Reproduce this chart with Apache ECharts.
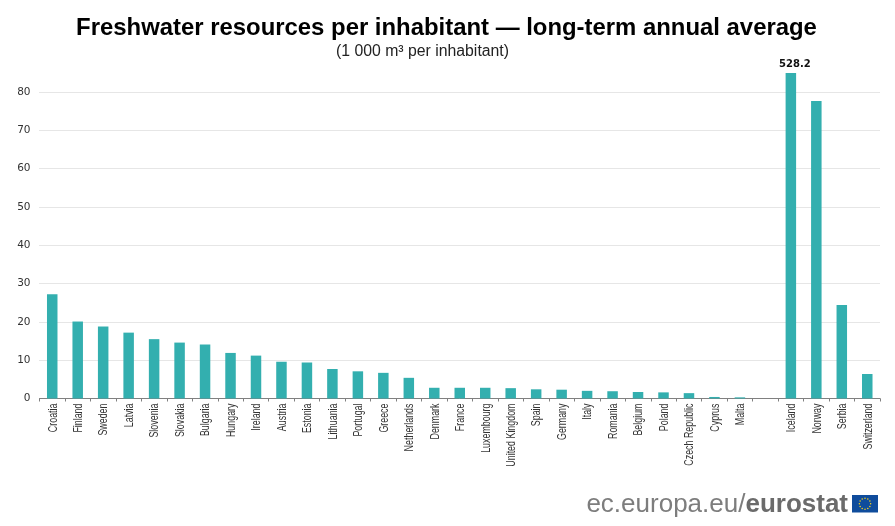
<!DOCTYPE html>
<html><head><meta charset="utf-8">
<style>html,body{margin:0;padding:0;background:#fff}#c{width:895px;height:526px}</style>
<script src="https://cdn.jsdelivr.net/npm/echarts@6/dist/echarts.min.js"></script>
</head><body><div id="c"></div>
<script>
const categories = ['Croatia','Finland','Sweden','Latvia','Slovenia','Slovakia','Bulgaria','Hungary','Ireland','Austria','Estonia','Lithuania','Portugal','Greece','Netherlands','Denmark','France','Luxembourg','United Kingdom','Spain','Germany','Italy','Romania','Belgium','Poland','Czech Republic','Cyprus','Malta','','Iceland','Norway','Serbia','Switzerland'];
const values = [27.2,20.1,18.8,17.2,15.5,14.6,14.1,11.9,11.2,9.6,9.4,7.7,7.1,6.7,5.4,2.8,2.8,2.8,2.7,2.4,2.3,2.0,1.9,1.7,1.6,1.4,0.4,0.3,null,528.2,77.7,24.4,6.4];
const labelled = 'Iceland';
const titleText = 'Freshwater resources per inhabitant — long-term annual average';
const subtitleText = '(1 000 m³ per inhabitant)';
const axisMax = 85;

const chart = echarts.init(document.getElementById('c'), null, {renderer:'canvas'});
const flagX = 852, flagY = 495, flagW = 26, flagH = 17.5;
const stars = [];
for (let i = 0; i < 12; i++) {
  const a = i * Math.PI / 6;
  stars.push({type:'circle', shape:{cx:flagX+flagW/2+5.6*Math.cos(a), cy:flagY+flagH/2+5.6*Math.sin(a), r:0.75}, style:{fill:'#ffd617'}});
}
chart.setOption({
  animation:false,
  backgroundColor:'#fff',
  title:[
    {text:titleText, left:441.5, top:11, textAlign:'center', textStyle:{fontFamily:'Liberation Sans', fontWeight:'bold', fontSize:23.9, color:'#000'}},
    {text:subtitleText, left:417.5, top:39, textAlign:'center', textStyle:{fontFamily:'Liberation Sans', fontWeight:'normal', fontSize:15.8, color:'#222'}}
  ],
  grid:{left:39.5, right:15, top:73, height:325.5, containLabel:false},
  xAxis:{type:'category', data:categories,
    axisLine:{lineStyle:{color:'#808080', width:1}},
    axisTick:{show:true, alignWithLabel:false, length:3, lineStyle:{color:'#808080'}},
    axisLabel:{rotate:90, interval:0, margin:5, fontFamily:'Liberation Sans', fontSize:12, color:'#333'}
  },
  yAxis:{type:'value', min:0, max:axisMax, interval:10,
    axisLine:{show:false}, axisTick:{show:false},
    axisLabel:{showMaxLabel:false, margin:9, fontFamily:'DejaVu Sans', fontSize:10.5, color:'#333'},
    splitLine:{showMaxLine:false, lineStyle:{color:'#cccccc', type:'dotted', width:1}}
  },
  series:[{type:'bar', data:values.map((v,i)=>({value:v, label:{show:categories[i]===labelled}})), barWidth:10.5, clip:true,
    itemStyle:{color:'#33afaf'},
    label:{position:'top', distance:4, offset:[4,0], formatter:p=>p.value.toFixed(1), fontFamily:'DejaVu Sans', fontWeight:'bold', fontSize:10, color:'#111'}
  }],
  graphic:[
    {type:'text', right:47, top:492, style:{text:'{a|ec.europa.eu/}{b|eurostat}', rich:{a:{fontFamily:'Liberation Sans', fontSize:26, fill:'#7d7d7d', fontWeight:'normal'}, b:{fontFamily:'Liberation Sans', fontSize:26, fill:'#6b6b6b', fontWeight:'bold'}}}},
    {type:'group', silent:true, children:[{type:'rect', shape:{x:flagX,y:flagY,width:flagW,height:flagH}, style:{fill:'#0f4c9c'}}].concat(stars)}
  ]
});
// The reference's category labels are horizontally squeezed: narrow the axis labels along their own direction.
const labelSqueeze = 0.74;
chart.getZr().storage.traverse(el => {
  if (el.style && categories.includes(el.style.text) && el.style.text && el.rotation) {
    el.scaleX = labelSqueeze;
    el.x += 1;
    el.markRedraw();
  }
});
chart.getZr().refresh();
</script></body></html>
